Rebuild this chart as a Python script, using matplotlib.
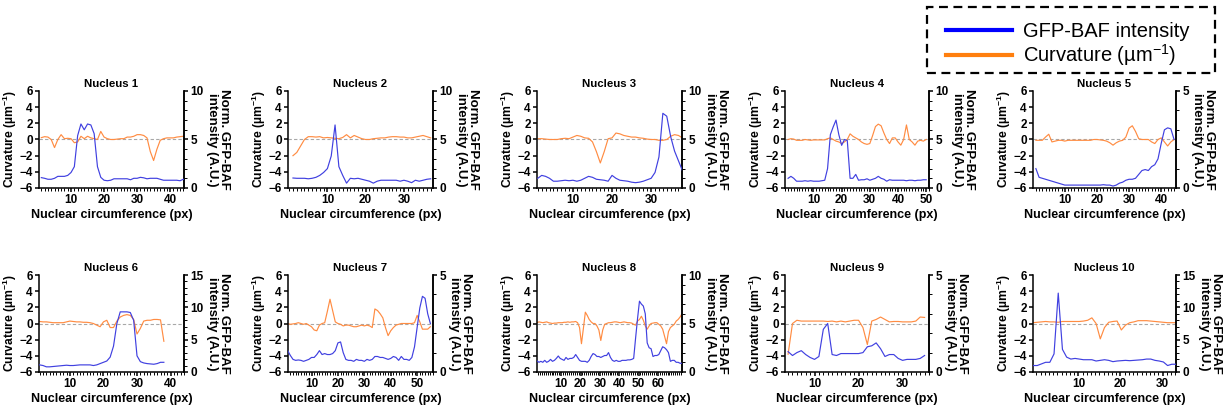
import numpy as np
import matplotlib
matplotlib.use("Agg")
import matplotlib.pyplot as plt
from matplotlib.ticker import MultipleLocator
from matplotlib.lines import Line2D
from matplotlib.patches import Rectangle

plt.rcParams['font.family'] = ['Liberation Sans', 'DejaVu Sans']
plt.rcParams['mathtext.default'] = 'regular'

# ---------------- data ----------------
titles = ["Nucleus 1", "Nucleus 2", "Nucleus 3", "Nucleus 4", "Nucleus 5",
          "Nucleus 6", "Nucleus 7", "Nucleus 8", "Nucleus 9", "Nucleus 10"]

x_start = [1, 1, 1, 1, 1, 1, 1, -2.5, 4, -0.8]
x_lims = [(0.3, 44.2), (-0.3, 37.6), (0.8, 37.9), (-0.1, 51), (0.1, 44.6),
          (0.8, 44), (1.1, 56), (-2.5, 72.5), (3.3, 36), (-0.8, 33.2)]
x_ticks = [[10, 20, 30, 40], [10, 20, 30], [10, 20, 30], [10, 20, 30, 40, 50],
           [10, 20, 30, 40], [10, 20, 30, 40], [10, 20, 30, 40, 50],
           [10, 20, 30, 40, 50, 60], [10, 20, 30], [10, 20, 30]]
int_max = [10, 10, 10, 10, 5, 15, 5, 10, 5, 15]

gfp1 = [1.07, 1.0, 0.9, 0.9, 1.0, 1.2, 1.2, 1.2, 1.3, 1.6, 2.2, 5.4, 6.6, 6.0, 6.6,
        6.5, 5.6, 2.2, 1.1, 0.8, 0.75, 0.8, 0.95, 0.95, 0.95, 0.95, 0.95, 0.85, 1.0,
        1.0, 1.1, 1.05, 0.95, 1.0, 1.0, 1.0, 0.9, 0.8, 0.8, 0.8, 0.8, 0.8, 0.75, 0.9]
curv1 = [0.23, 0.35, 0.3, 0.0, -1.0, 0.0, 0.6, 0.1, 0.15, 0.1, -0.4, -0.3, 0.4, 0.1,
         0.4, 0.2, 0.1, 0.0, 1.0, 0.3, 0.1, 0.0, 0.0, 0.05, 0.1, 0.1, 0.3, 0.3, 0.4,
         0.6, 0.6, 0.5, 0.2, -1.5, -2.6, -1.2, -0.1, 0.1, 0.2, 0.2, 0.2, 0.3, 0.35, 0.4]

gfp2 = [1.03, 1.0, 1.0, 1.0, 0.95, 1.0, 1.1, 1.3, 1.6, 2.0, 3.3, 6.5, 2.2, 1.3, 0.5,
        1.0, 0.95, 1.0, 0.9, 0.8, 0.7, 0.5, 0.7, 0.8, 0.8, 0.8, 0.8, 0.8, 0.7, 0.8,
        0.7, 0.55, 0.8, 0.7, 0.8, 0.9, 0.95]
curv2 = [-2.0, -1.6, -0.8, 0.0, 0.35, 0.35, 0.3, 0.35, 0.2, 0.25, 0.2, 0.15, 0.1,
         0.25, 0.6, 0.2, 0.5, 0.3, 0.1, 0.0, 0.0, 0.1, 0.15, 0.2, 0.2, 0.3, 0.35,
         0.35, 0.3, 0.3, 0.2, 0.2, 0.3, 0.4, 0.5, 0.35, 0.2]

gfp3 = [1.0, 1.3, 1.2, 1.0, 0.7, 0.7, 0.75, 0.8, 0.75, 0.8, 0.7, 0.8, 1.0, 1.2, 1.1,
        0.9, 0.85, 0.8, 0.7, 1.3, 1.0, 0.8, 0.75, 0.7, 0.6, 0.55, 0.6, 0.7, 0.85,
        1.0, 1.6, 3.2, 7.7, 7.4, 5.3, 3.8, 2.8, 1.8]
curv3 = [0.1, 0.1, 0.05, 0.0, 0.0, 0.0, 0.1, 0.15, 0.1, 0.3, 0.5, 0.4, 0.2, 0.15,
         -0.3, -1.5, -2.9, -1.5, 0.1, 0.2, 0.8, 0.7, 0.5, 0.4, 0.3, 0.3, 0.2, 0.15,
         0.05, 0.0, 0.0, -0.1, -0.1, 0.0, 0.4, 0.6, 0.5, 0.2]

gfp4 = [1.0, 1.2, 1.0, 0.7, 0.7, 0.7, 0.75, 0.7, 0.75, 0.7, 0.7, 0.7, 0.75, 0.8, 2.0,
        5.5, 6.3, 7.0, 5.5, 4.4, 5.0, 4.9, 1.0, 1.0, 1.4, 0.8, 0.85, 0.85, 0.95, 0.8,
        0.9, 1.0, 1.2, 1.0, 0.9, 0.7, 0.85, 0.8, 0.8, 0.8, 0.8, 0.8, 0.75, 0.8, 0.8,
        0.75, 0.8, 0.8, 0.85, 0.85]
curv4 = [0.0, 0.1, 0.05, -0.1, -0.1, -0.1, 0.0, -0.05, -0.1, -0.05, -0.05, -0.05,
         -0.05, -0.05, 0.1, 0.2, 0.0, -0.2, -0.3, -0.5, -0.3, 0.0, 0.7, 0.4, 0.2, 0.0,
         -0.3, -0.5, -0.6, -0.5, 0.5, 1.6, 1.9, 1.7, 0.8, 0.0, -0.5, 0.2, 0.2, -0.3,
         -0.7, 0.0, 1.8, 0.0, -0.3, -0.7, -0.2, -0.1, -0.2, 0.0]

gfp5 = [1.0, 0.55, 0.5, 0.45, 0.4, 0.35, 0.3, 0.25, 0.2, 0.15, 0.15, 0.15, 0.15, 0.15,
        0.15, 0.15, 0.15, 0.15, 0.15, 0.15, 0.15, 0.17, 0.15, 0.15, 0.1, 0.15, 0.25,
        0.3, 0.4, 0.45, 0.45, 0.5, 0.7, 0.9, 0.95, 0.9, 1.1, 1.2, 1.5, 2.3, 3.0, 3.1,
        3.05, 2.5]
curv5 = [-0.1, -0.1, -0.1, 0.3, 0.65, -0.3, -0.2, -0.1, -0.1, -0.2, -0.1, -0.1, -0.1,
         -0.1, -0.1, -0.1, -0.1, -0.1, 0.0, 0.0, -0.05, -0.1, -0.2, -0.4, -0.7, -0.4,
         -0.2, -0.1, 0.3, 1.4, 1.7, 1.0, 0.1, 0.0, 0.0, 0.0, -0.3, -0.5, 0.0, 0.2,
         -0.3, -0.8, -0.3, 0.0]

gfp6 = [1.1, 1.0, 0.8, 0.8, 0.85, 0.9, 0.95, 1.0, 1.05, 1.0, 1.0, 1.05, 1.1, 1.1, 1.1,
        1.1, 1.0, 1.1, 1.3, 1.5, 1.7, 2.3, 4.0, 7.5, 9.3, 9.3, 9.3, 9.2, 8.0, 2.5, 1.6,
        1.4, 1.3, 1.25, 1.2, 1.3, 1.5, 1.5]
curv6 = [0.25, 0.2, 0.2, 0.15, 0.1, 0.1, 0.1, 0.1, 0.2, 0.3, 0.25, 0.2, 0.2, 0.15, 0.15,
         0.1, 0.0, -0.2, -0.4, 0.2, 0.4, -0.5, -0.5, 0.3, 0.8, 1.0, 1.1, 1.0, 0.5, -1.3,
         -0.6, 0.3, 0.4, 0.4, 0.5, 0.5, 0.45, -2.2]

gfp7 = [1.1, 0.85, 0.65, 0.6, 0.62, 0.6, 0.55, 0.6, 0.65, 0.75, 0.75, 0.9, 1.1, 0.9,
        0.95, 0.9, 0.9, 0.95, 1.1, 1.5, 1.55, 1.0, 0.65, 0.6, 0.6, 0.55, 0.65, 0.6,
        0.6, 0.55, 0.65, 0.6, 0.65, 0.8, 0.8, 0.75, 0.75, 0.7, 0.65, 0.7, 0.8, 0.75,
        0.6, 0.8, 0.65, 0.65, 0.6, 0.75, 1.3, 2.3, 3.3, 3.9, 3.8, 3.0, 2.5]
curv7 = [0.0, -0.1, -0.05, 0.0, 0.1, 0.0, -0.1, 0.0, -0.2, -0.4, -0.8, -0.9, -0.2, 0.0,
         0.1, 1.5, 3.0, 1.6, 0.2, 0.0, -0.1, -0.3, -0.2, -0.2, -0.3, -0.4, -0.4, -0.3,
         -0.2, -0.3, -0.2, -0.3, -0.5, 1.8, 1.6, 1.2, 0.7, -0.5, -1.5, -0.9, -0.5,
         -0.2, -0.1, 0.0, 0.0, 0.0, 0.0, 0.0, 0.1, 1.0, 0.2, -0.7, -0.7, -0.7, -0.4]

gfp8 = [1.15, 1.0, 1.1, 1.0, 1.2, 1.0, 1.1, 1.3, 1.1, 1.2, 1.4, 1.65, 1.4, 1.3, 1.2,
        1.5, 1.3, 1.4, 1.4, 1.5, 1.8, 1.5, 1.2, 1.1, 1.1, 1.1, 1.0, 1.2, 1.6, 1.9, 1.8,
        1.6, 1.6, 1.5, 1.6, 1.7, 1.7, 2.0, 1.5, 1.2, 1.1, 1.2, 1.1, 1.1, 1.2, 1.2, 1.2,
        1.25, 1.25, 1.3, 1.4, 3.5, 5.5, 7.3, 7.0, 6.8, 6.0, 3.0, 2.5, 2.4, 1.6, 1.7,
        1.7, 1.8, 2.2, 2.6, 2.5, 2.3, 2.0, 1.1, 1.2, 1.2, 1.0, 1.0, 0.9, 0.9]
curv8 = [0.1, 0.2, 0.15, 0.1, 0.15, 0.2, 0.1, 0.05, 0.0, 0.05, 0.05, 0.1, 0.1, 0.1,
         0.15, 0.15, 0.2, 0.15, 0.2, 0.2, 0.25, 0.1, -0.5, -2.5, -0.6, 1.4, 1.0, 0.5,
         0.2, 0.0, 0.0, -0.3, -0.8, -2.1, -0.8, -0.1, 0.0, 0.1, 0.1, 0.15, 0.2, 0.2,
         0.15, 0.1, 0.15, 0.2, 0.15, 0.1, 0.1, 0.05, -0.1, -0.2, 0.3, 0.5, 0.9, 0.4,
         -0.3, -0.7, -0.3, 0.0, 0.05, 0.1, 0.1, -0.1, -0.3, -0.7, -1.6, -2.5, -1.0,
         -0.5, -0.3, -0.1, 0.3, 0.5, 0.8, 1.2]

gfp9 = [1.05, 0.85, 1.0, 1.1, 0.9, 0.75, 0.65, 0.8, 2.2, 2.5, 0.9, 0.85, 0.95, 0.95,
        0.95, 0.95, 0.95, 1.0, 1.3, 1.35, 1.5, 1.2, 0.8, 0.9, 0.9, 0.7, 0.6, 0.65, 0.65,
        0.65, 0.7, 0.85]
curv9 = [-3.8, 0.0, 0.4, 0.3, 0.3, 0.3, 0.3, 0.3, 0.3, 0.25, 0.3, 0.2, 0.3, 0.2, 0.3,
         0.4, 0.4, -0.5, -2.6, 0.3, 0.5, 0.8, 0.5, 0.2, 0.25, 0.25, 0.2, 0.2, 0.2, 0.3,
         0.8, 0.75]

gfp10 = [1.0, 1.0, 1.25, 1.5, 1.5, 2.8, 12.2, 3.5, 2.3, 2.0, 2.1, 2.0, 1.9, 1.9, 1.9,
         1.7, 1.8, 1.9, 1.8, 1.6, 1.7, 1.75, 1.8, 1.75, 1.8, 1.85, 1.9, 2.0, 2.0, 1.8,
         1.7, 1.55, 1.0, 1.2, 1.2]
curv10 = [0.1, 0.15, 0.2, 0.25, 0.2, 0.2, 0.15, 0.25, 0.25, 0.25, 0.25, 0.25, 0.3, 0.4,
          0.7, 0.0, -1.9, -0.5, 0.15, 0.25, 0.3, -0.8, -0.2, 0.1, 0.2, 0.35, 0.35,
          0.35, 0.3, 0.25, 0.2, 0.15, 0.1, 0.1, 0.1]

gfp_all = [gfp1, gfp2, gfp3, gfp4, gfp5, gfp6, gfp7, gfp8, gfp9, gfp10]
curv_all = [curv1, curv2, curv3, curv4, curv5, curv6, curv7, curv8, curv9, curv10]

legend_labels = ["GFP-BAF intensity", "Curvature (µm$^{-1}$)"]

# ---------------- style ----------------
BLUE = '#4040e0'
ORANGE = '#ff8c42'
LEG_BLUE = '#0000ff'
LEG_ORANGE = '#ff7f0e'

W, H = 1224, 408
fig = plt.figure(figsize=(W / 100, H / 100), dpi=100)

col_left = [39, 288, 537, 785, 1033]
col_w = [145, 145, 145, 144, 143]
row_top = [91, 275]
ax_h = 97

tick_fs = 8.5
lab_fs = 9
title_fs = 8.2

for i in range(10):
    r, c = divmod(i, 5)
    left = col_left[c] / W
    bottom = 1 - (row_top[r] + ax_h) / H
    ax = fig.add_axes([left, bottom, col_w[c] / W, ax_h / H])
    n = len(curv_all[i])
    x = x_start[i] + np.arange(n)
    xg = x_start[i] + np.arange(len(gfp_all[i]))

    ax.axhline(0, color='#a8a8a8', lw=0.8, ls=(0, (3, 2)), zorder=1)
    ax.plot(x, curv_all[i], color=ORANGE, lw=0.85, zorder=2)
    ax.set_ylim(-6, 6)
    ax.set_yticks(np.arange(-6, 7, 2))
    ax.set_xlim(*x_lims[i])
    ax.set_xticks(x_ticks[i])
    ax.xaxis.set_minor_locator(MultipleLocator(1))
    ax.set_title(titles[i], fontsize=title_fs, fontweight='bold', pad=3)
    ax.set_xlabel("Nuclear circumference (px)", fontsize=lab_fs, fontweight='bold',
                  labelpad=2)
    ax.set_ylabel("Curvature (µm$^{-1}$)", fontsize=lab_fs - 0.3, fontweight='bold',
                  labelpad=0.5)

    ax2 = ax.twinx()
    ax2.plot(xg, gfp_all[i], color=BLUE, lw=0.85, zorder=3)
    m = int_max[i]
    ax2.set_ylim(0, m)
    ax2.set_yticks(np.arange(0, m + 1, 5))
    ax2.yaxis.set_minor_locator(MultipleLocator(1))
    ax2.set_ylabel("Norm. GFP-BAF\nintensity (A.U.)", fontsize=9.5,
                   fontweight='bold', rotation=270, labelpad=19, linespacing=1.0)

    for a in (ax, ax2):
        a.spines['top'].set_visible(False)
        for s in ('left', 'right', 'bottom'):
            a.spines[s].set_linewidth(1.1)
        a.tick_params(axis='both', which='major', labelsize=tick_fs, width=1.1,
                      length=3, pad=1.5)
        a.tick_params(axis='both', which='minor', width=0.7, length=1.8)
        for lbl in a.get_xticklabels() + a.get_yticklabels():
            lbl.set_fontweight('bold')
    ax2.spines['left'].set_visible(False)
    ax2.spines['bottom'].set_visible(False)

# legend: dashed box drawn separately, entries without frame
box = Rectangle((927 / W, 1 - 73 / H), (1215 - 927) / W, (73 - 7) / H,
                transform=fig.transFigure, fill=False, edgecolor='black',
                linewidth=1.6, linestyle=(0, (4, 2.5)))
fig.patches.append(box)

handles = [Line2D([], [], color=LEG_BLUE, lw=3),
           Line2D([], [], color=LEG_ORANGE, lw=3)]
leg = fig.legend(handles, legend_labels, loc='upper left',
                 bbox_to_anchor=(946 / W, 1 - 22 / H), fontsize=14.5,
                 handlelength=3.3, handletextpad=0.5, labelspacing=0.05,
                 borderpad=0, borderaxespad=0, frameon=False)

fig.savefig("out.png", dpi=100)
